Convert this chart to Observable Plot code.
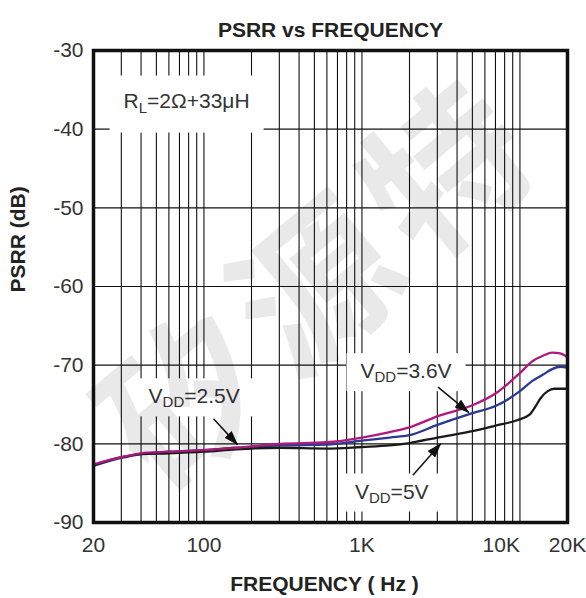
<!DOCTYPE html>
<html><head><meta charset="utf-8">
<script src="https://cdn.jsdelivr.net/npm/d3@7"></script>
<script src="https://cdn.jsdelivr.net/npm/@observablehq/plot@0.6"></script>
<style>body{margin:0;background:#fff}</style>
</head><body><div id="chart"></div>
<script>
// ---- data ----
const freqA = [20,30,40,60,100,160,300,600,1000,1500,2000,3000,5000,7000,10000,12000,14000,16000,18000,20000];
const vdd25 = [-82.6,-81.7,-81.2,-81.0,-80.8,-80.5,-80.0,-79.8,-79.2,-78.5,-77.9,-76.5,-75.1,-73.6,-71.0,-69.5,-68.8,-68.4,-68.5,-69.0];
const vdd36 = [-82.8,-81.8,-81.3,-81.0,-80.8,-80.5,-80.2,-80.1,-79.6,-79.2,-78.9,-77.6,-76.1,-75.2,-73.3,-72.0,-71.2,-70.5,-70.2,-70.3];
const freq5 = [20,30,40,60,100,160,300,600,1000,1500,2000,3000,5000,7000,9600,11500,12500,13500,15000,16500,20000];
const vdd5  = [-82.7,-81.7,-81.3,-81.2,-81.0,-80.7,-80.5,-80.6,-80.4,-80.2,-79.9,-79.2,-78.4,-77.7,-77.0,-76.3,-75.3,-74.2,-73.3,-73.0,-73.0];

const gridFreq = [30,40,50,60,70,80,90,100,200,300,400,500,600,700,800,900,1000,2000,3000,4000,5000,6000,7000,8000,9000,10000];
const gridDb = [-40,-50,-60,-70,-80];
const yTicks = [-30,-40,-50,-60,-70,-80,-90];
const xTicksMid = [20,100,1000,20000];
const xTickLabelsMid = ["20","100","1K","20K"];
const xTicksEnd = [10000];
const xTickLabelsEnd = ["10K"];

const title = "PSRR vs FREQUENCY";
const xTitle = "FREQUENCY ( Hz )";
const yTitle = "PSRR (dB)";
const watermarkChars = ["矽","源","特"];

const annText = ["RL=2Ω+33μH","VDD=2.5V","VDD=3.6V","VDD=5V"];
const annSub  = ["L","DD","DD","DD"];
const annF    = [31,44.6,979,903];
const annDb   = [-36.4,-74.0,-70.8,-86.1];

const arrF1 = [115,3030,2100];
const arrDb1 = [-76.8,-72.8,-84.0];
const arrF2 = [163,4740,3150];
const arrDb2 = [-80.1,-76.0,-80.0];

const colors = {"2.5":"#b0197e","3.6":"#2b3990","5":"#1a1a1a"};

// ---- tables ----
const series = [
  ...freqA.map((f,i)=>({f, db: vdd36[i], s:"3.6"})),
  ...freq5.map((f,i)=>({f, db: vdd5[i], s:"5"})),
  ...freqA.map((f,i)=>({f, db: vdd25[i], s:"2.5"}))
];
const ann = annText.map((t,i)=>({t, f: annF[i], db: annDb[i]}));
const arrows = arrF1.map((f,i)=>({f1:f, d1:arrDb1[i], f2:arrF2[i], d2:arrDb2[i]}));
const midLabel = new Map(xTicksMid.map((v,i)=>[v, xTickLabelsMid[i]]));
const endLabel = new Map(xTicksEnd.map((v,i)=>[v, xTickLabelsEnd[i]]));

const wmStyle = {frameAnchor:"middle", rotate:-40, text:d=>d, fontSize:160, fontWeight:"bold",
  fontFamily:"Noto Sans CJK SC", fill:"#000", fillOpacity:0.085};

const font = "Liberation Sans, Arial, sans-serif";
const plot = Plot.plot({
  width: 586, height: 598,
  marginLeft: 93, marginRight: 19, marginTop: 50, marginBottom: 76,
  style: {fontFamily: font, fontSize: "21px", color: "#1a1a1a", background: "#fff"},
  x: {type: "log", domain: [20, 20000]},
  y: {domain: [-90, -30]},
  marks: [
    Plot.ruleX(gridFreq, {x: d=>d, stroke: "#111", strokeWidth: 1.1}),
    Plot.ruleY(gridDb, {y: d=>d, stroke: "#111", strokeWidth: 1.1}),
    Plot.text(ann, {x:"f", y:"db", text:"t", textAnchor:"start", fontSize: 21, fill:"#333"}),
    Plot.line(series, {x:"f", y:"db", z:"s", stroke: d=>colors[d.s], strokeWidth: 2.3, curve:"monotone-x"}),
    Plot.link(arrows, {x1:"f1", y1:"d1", x2:"f2", y2:"d2", stroke:"#111", strokeWidth:1.5}),
    Plot.frame({stroke:"#111", strokeWidth: 3.5}),
    Plot.axisY(yTicks, {tickSize: 0, tickPadding: 10, fontSize: 21, tickFormat: d=>String(d), fill:"#333", label:null}),
    Plot.axisX(xTicksMid, {tickSize: 0, tickPadding: 15, fontSize: 21, tickFormat: d=>midLabel.get(d), fill:"#333", label:null}),
    Plot.axisX(xTicksEnd, {tickSize: 0, tickPadding: 15, fontSize: 21, tickFormat: d=>endLabel.get(d), textAnchor:"end", fill:"#333", label:null}),
    Plot.text([title], {frameAnchor:"top", dy:-28, text:d=>d, fontWeight:"bold", fontSize:21, fill:"#222"}),
    Plot.text([xTitle], {frameAnchor:"bottom", dy:68, dx:-6, text:d=>d, fontWeight:"bold", fontSize:21, fill:"#222"}),
    Plot.text([yTitle], {frameAnchor:"left", dx:-75, dy:6, rotate:-90, text:d=>d, fontWeight:"bold", fontSize:21, fill:"#222"}),
    Plot.text([watermarkChars[0]], {...wmStyle, dx:-140, dy:120}),
    Plot.text([watermarkChars[1]], {...wmStyle, dx:-10, dy:5}),
    Plot.text([watermarkChars[2]], {...wmStyle, dx:120, dy:-110})
  ]
});
document.getElementById("chart").appendChild(plot);

// subscripts + white label boxes
const ns = "http://www.w3.org/2000/svg";
Array.from(plot.querySelectorAll("text")).forEach(el => {
  const i = annText.indexOf(el.textContent);
  if (i < 0) return;
  const t = annText[i], sub = annSub[i];
  const main = t[0], rest = t.slice(1 + sub.length);
  while (el.firstChild) el.removeChild(el.firstChild);
  const a = document.createElementNS(ns, "tspan"); a.textContent = main;
  const b = document.createElementNS(ns, "tspan"); b.textContent = sub;
  b.setAttribute("font-size", "15"); b.setAttribute("dy", i === 0 ? "5" : "4");
  const c = document.createElementNS(ns, "tspan"); c.textContent = rest;
  c.setAttribute("dy", i === 0 ? "-5" : "-4");
  el.append(a, b, c);
  const bb = el.getBBox();
  const r = document.createElementNS(ns, "rect");
  const px = 14, pyTop = i === 0 ? 13 : 6, pyBot = i === 0 ? 17 : 6;
  r.setAttribute("x", bb.x - px); r.setAttribute("y", bb.y - pyTop);
  r.setAttribute("width", bb.width + 2*px); r.setAttribute("height", bb.height + pyTop + pyBot);
  r.setAttribute("fill", "#fff");
  const tr = el.getAttribute("transform"); if (tr) r.setAttribute("transform", tr);
  el.parentNode.insertBefore(r, el);
});
// filled arrowheads
const defs = document.createElementNS(ns, "defs");
defs.innerHTML = '<marker id="ahead" viewBox="0 0 15 10" refX="14" refY="5" markerWidth="15" markerHeight="10" markerUnits="userSpaceOnUse" orient="auto"><path d="M0,0L15,5L0,10z" fill="#111"/></marker>';
plot.insertBefore(defs, plot.firstChild);
plot.querySelectorAll('g[aria-label="link"]').forEach(g => g.querySelectorAll("path,line").forEach(p => p.setAttribute("marker-end", "url(#ahead)")));
</script>
</body></html>
